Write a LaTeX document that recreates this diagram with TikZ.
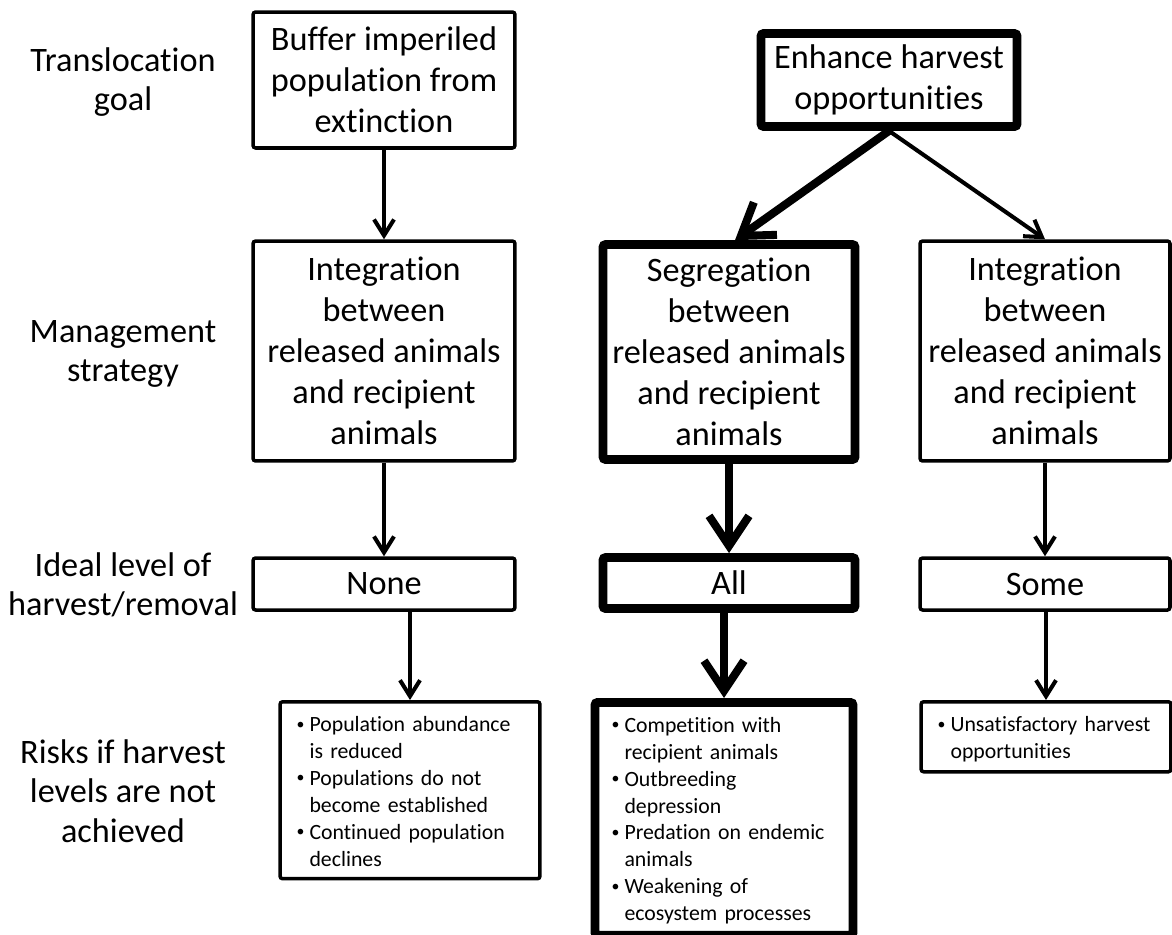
\documentclass[tikz,border=0pt]{standalone}
\usepackage{fontspec}
\setmainfont{Carlito}[Ligatures={NoCommon}]
\usetikzlibrary{arrows.meta, calc}
\tikzset{
	box/.style = {draw, line width=#1, rounded corners=1.5pt, align=center, inner sep=0pt,
		font=\fontsize{19.5}{23.3}\selectfont},
	box/.default = 2pt,
	heavy/.style = {box=5pt},
	risk/.style = {draw, line width=#1, rounded corners=1.5pt, anchor=north, inner xsep=0.33cm,
		inner ysep=0.16cm, text height=0.44cm, font=\fontsize{12.4}{15.3}\selectfont},
	risk/.default = 2pt,
	label/.style = {align=center, font=\fontsize{19.5}{22.5}\selectfont},
	flow/.style = {line width=2.3pt, -{Straight Barb[length=0.32cm, width=0.4cm]}},
	heavyflow/.style = {line width=4.6pt, -{Straight Barb[length=0.6cm, width=0.8cm]}},
}
\newcommand\bul{\raisebox{0.12em}{\fontsize{9}{9}\selectfont\textbullet}}

\begin{document}
\begin{tikzpicture}[x=0.02cm, y=-0.02cm]
	\useasboundingbox (0,0) rectangle (1172,934);
	% row labels
	\node[label] (goal)     at (123,82)  {Translocation\\goal};
	\node[label] (strategy) at (123,354) {Management\\strategy};
	\node[label] (level)    at (123,585) {Ideal level of\\harvest/removal};
	\node[label] (risks)    at (123,791) {Risks if harvest\\levels are not\\achieved};
	% goals
	\node[box, minimum width=5.24cm, minimum height=2.72cm] (buffer) at (384,80)
		{Buffer imperiled\\population from\\extinction};
	\node[heavy, minimum width=5.12cm, minimum height=1.86cm] (enhance) at (889,80)
		{Enhance harvest\\opportunities};
	% strategies
	\node[box, minimum width=5.24cm, minimum height=4.4cm] (integL) at (384,351)
		{Integration\\between\\released animals\\and recipient\\animals};
	\node[heavy, minimum width=5.04cm, minimum height=4.3cm] (segr) at (729,352)
		{Segregation\\between\\released animals\\and recipient\\animals};
	\node[box, minimum width=5.0cm, minimum height=4.4cm] (integR) at (1045,351)
		{Integration\\between\\released animals\\and recipient\\animals};
	% harvest levels
	\node[box, minimum width=5.24cm, minimum height=1.04cm] (none) at (384,584) {None};
	\node[heavy, minimum width=5.04cm, minimum height=1.02cm] (all) at (729,583) {All};
	\node[box, minimum width=5.0cm, minimum height=1.04cm] (some) at (1045,584) {Some};
	% risks
	\node[risk, text width=4.54cm, text depth=2.78cm] (riskL) at (410,700) {%
		\begin{tabular}[t]{@{}p{0.26cm}@{}l@{}}
			\bul & Population abundance\\
			     & is reduced\\
			\bul & Populations do not\\
			     & become established\\
			\bul & Continued population\\
			     & declines
		\end{tabular}};
	\node[risk=5pt, text width=4.5cm, text depth=3.9cm] (riskM) at (724,698) {%
		\begin{tabular}[t]{@{}p{0.26cm}@{}l@{}}
			\bul & Competition with\\
			     & recipient animals\\
			\bul & Outbreeding\\
			     & depression\\
			\bul & Predation on endemic\\
			     & animals\\
			\bul & Weakening of\\
			     & ecosystem processes
		\end{tabular}};
	\node[risk, text width=4.34cm, text depth=0.64cm] (riskR) at (1046,700) {%
		\begin{tabular}[t]{@{}p{0.26cm}@{}l@{}}
			\bul & Unsatisfactory harvest\\
			     & opportunities
		\end{tabular}};
	% connectors
	\draw[flow] (buffer) -- (integL);
	\draw[heavyflow] (enhance.south) -- ($(segr.north)+(6,0)$);
	\draw[flow] (enhance.south) -- (integR.north);
	\draw[flow] (integL) -- (none);
	\draw[heavyflow] (segr) -- (all);
	\draw[flow] (integR) -- (some);
	\draw[flow] (none.south -| riskL.north) -- (riskL.north);
	\draw[heavyflow] (all.south -| riskM.north) -- (riskM.north);
	\draw[flow] (some.south -| riskR.north) -- (riskR.north);
\end{tikzpicture}
\end{document}
